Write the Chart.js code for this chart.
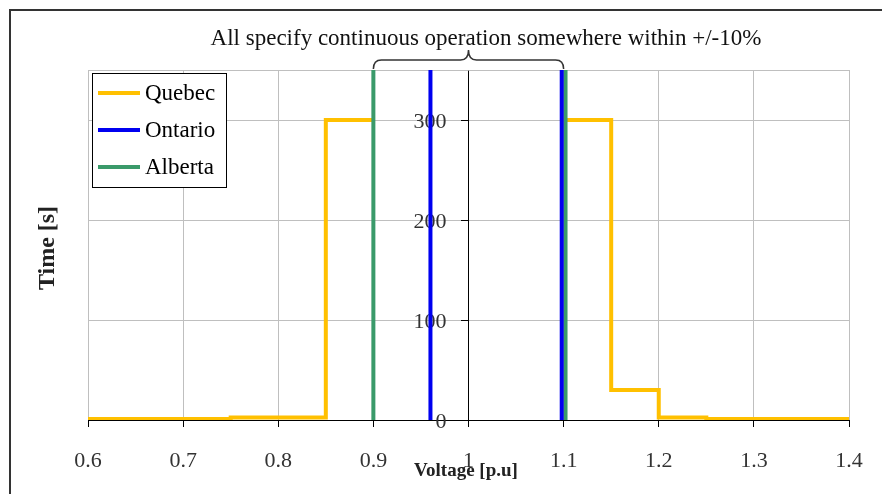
<!DOCTYPE html>
<html lang="en">
<head>
<meta charset="UTF-8">
<title>Voltage ride-through</title>
<script src="https://cdn.jsdelivr.net/npm/chart.js"></script>
<style>
  body { margin: 0; background: #fff; }
</style>
</head>
<body>
<canvas id="myChart" width="882" height="494"></canvas>
<script>
// data (voltage in p.u, time in s)
const seriesNames = ['Quebec', 'Ontario', 'Alberta'];
const seriesColors = ['#FFC000', '#0000F0', '#3A9A6A'];
const quebecV = [0.6, 0.75, 0.75, 0.85, 0.85, 0.9, null, 1.1, 1.15, 1.15, 1.2, 1.2, 1.25, 1.25, 1.4];
const quebecT = [1, 1, 2.5, 2.5, 300, 300, null, 300, 300, 30, 30, 2.5, 2.5, 1, 1];
const ontarioV = [0.96, 0.96, null, 1.098, 1.098];
const ontarioT = [0, 350, null, 0, 350];
const albertaV = [0.9, 0.9, null, 1.102, 1.102];
const albertaT = [0, 350, null, 0, 350];
const xTicks = [0.6, 0.7, 0.8, 0.9, 1, 1.1, 1.2, 1.3, 1.4];
const yTicks = [0, 100, 200, 300];

const serif = 'Liberation Serif';

function pts(v, t) {
  return v.map((x, i) => ({ x: x === null ? v[i - 1] : x, y: t[i] }));
}

const extras = {
  id: 'extras',
  beforeDatasetsDraw(chart) {
    const { ctx, chartArea: a } = chart;
    const y = chart.scales.y;
    const axisX = chart.scales.x.getPixelForValue(1);
    ctx.save();
    // top edge of the plot
    ctx.strokeStyle = '#BFBFBF';
    ctx.lineWidth = 1;
    ctx.beginPath();
    ctx.moveTo(a.left, a.top + 0.5);
    ctx.lineTo(a.right, a.top + 0.5);
    ctx.stroke();
    // y tick labels, left of the axis that crosses at 1 p.u
    ctx.fillStyle = '#333';
    ctx.font = '22px "' + serif + '"';
    ctx.textAlign = 'right';
    ctx.textBaseline = 'middle';
    y.ticks.forEach(t => {
      ctx.fillText(String(t.value), axisX - 22, y.getPixelForValue(t.value) + 2);
    });
    ctx.restore();
  },
  afterDraw(chart) {
    const { ctx } = chart;
    const x = chart.scales.x;
    ctx.save();

    // outer frame
    ctx.strokeStyle = '#333';
    ctx.lineWidth = 2;
    ctx.beginPath();
    ctx.moveTo(10, 494);
    ctx.lineTo(10, 10);
    ctx.lineTo(882, 10);
    ctx.stroke();

    // title
    ctx.fillStyle = '#111';
    ctx.font = '23px "' + serif + '"';
    ctx.textAlign = 'center';
    ctx.textBaseline = 'alphabetic';
    ctx.fillText('All specify continuous operation somewhere within +/-10%', 486, 45);

    // brace over 0.9 .. 1.1
    const l = x.getPixelForValue(0.9), r = x.getPixelForValue(1.1), m = (l + r) / 2;
    ctx.strokeStyle = '#333';
    ctx.lineWidth = 1.5;
    ctx.beginPath();
    ctx.moveTo(l, 69);
    ctx.quadraticCurveTo(l, 60, l + 8, 60);
    ctx.lineTo(m - 8, 60);
    ctx.quadraticCurveTo(m, 60, m, 50);
    ctx.quadraticCurveTo(m, 60, m + 8, 60);
    ctx.lineTo(r - 8, 60);
    ctx.quadraticCurveTo(r, 60, r, 69);
    ctx.stroke();

    // axis titles
    ctx.fillStyle = '#222';
    ctx.font = 'bold 19px "' + serif + '"';
    ctx.textBaseline = 'middle';
    ctx.fillText('Voltage [p.u]', 466, 471);
    ctx.save();
    ctx.translate(48, 248);
    ctx.rotate(-Math.PI / 2);
    ctx.font = 'bold 24px "' + serif + '"';
    ctx.fillText('Time [s]', 0, 0);
    ctx.restore();

    // legend box
    ctx.fillStyle = '#fff';
    ctx.fillRect(92, 73, 134, 114);
    ctx.strokeStyle = '#000';
    ctx.lineWidth = 1;
    ctx.strokeRect(92.5, 73.5, 134, 114);
    const rows = [93, 130, 167];
    ctx.font = '23px "' + serif + '"';
    ctx.textAlign = 'left';
    chart.data.datasets.forEach((ds, i) => {
      ctx.strokeStyle = ds.borderColor;
      ctx.lineWidth = 4;
      ctx.beginPath();
      ctx.moveTo(98, rows[i]);
      ctx.lineTo(140, rows[i]);
      ctx.stroke();
      ctx.fillStyle = '#000';
      ctx.fillText(ds.label, 145, rows[i] + 1);
    });
    ctx.restore();
  }
};

new Chart(document.getElementById('myChart'), {
  type: 'line',
  data: {
    datasets: [
      { label: seriesNames[0], data: pts(quebecV, quebecT), borderColor: seriesColors[0], order: 3 },
      { label: seriesNames[1], data: pts(ontarioV, ontarioT), borderColor: seriesColors[1], order: 1 },
      { label: seriesNames[2], data: pts(albertaV, albertaT), borderColor: seriesColors[2], order: 2 }
    ]
  },
  options: {
    responsive: false,
    animation: false,
    spanGaps: false,
    elements: {
      line: { borderWidth: 4, tension: 0, borderCapStyle: 'butt' },
      point: { radius: 0 }
    },
    layout: { padding: { left: 88, right: 33, top: 70, bottom: 0 } },
    plugins: { legend: { display: false }, tooltip: { enabled: false } },
    scales: {
      x: {
        type: 'linear',
        min: 0.6,
        max: 1.4,
        afterBuildTicks: s => { s.ticks = xTicks.map(v => ({ value: v })); },
        afterFit: s => {
          s.height = 74;
          // the big label padding should not eat into the plot width
          s.paddingLeft = 14;
          s.paddingRight = 14;
        },
        grid: { color: '#BFBFBF', tickColor: '#000', tickLength: 7 },
        border: { color: '#000', width: 1 },
        ticks: {
          font: { family: serif, size: 22 },
          color: '#333',
          padding: 21,
          maxRotation: 0,
          callback: v => String(Math.round(v * 10) / 10)
        }
      },
      y: {
        type: 'linear',
        min: 0,
        max: 350,
        position: { x: 1 },
        afterBuildTicks: s => { s.ticks = yTicks.map(v => ({ value: v })); },
        grid: { color: '#BFBFBF', tickColor: '#000', tickLength: 7 },
        border: { color: '#000', width: 1 },
        ticks: { display: false }
      }
    }
  },
  plugins: [extras]
});
</script>
</body>
</html>
